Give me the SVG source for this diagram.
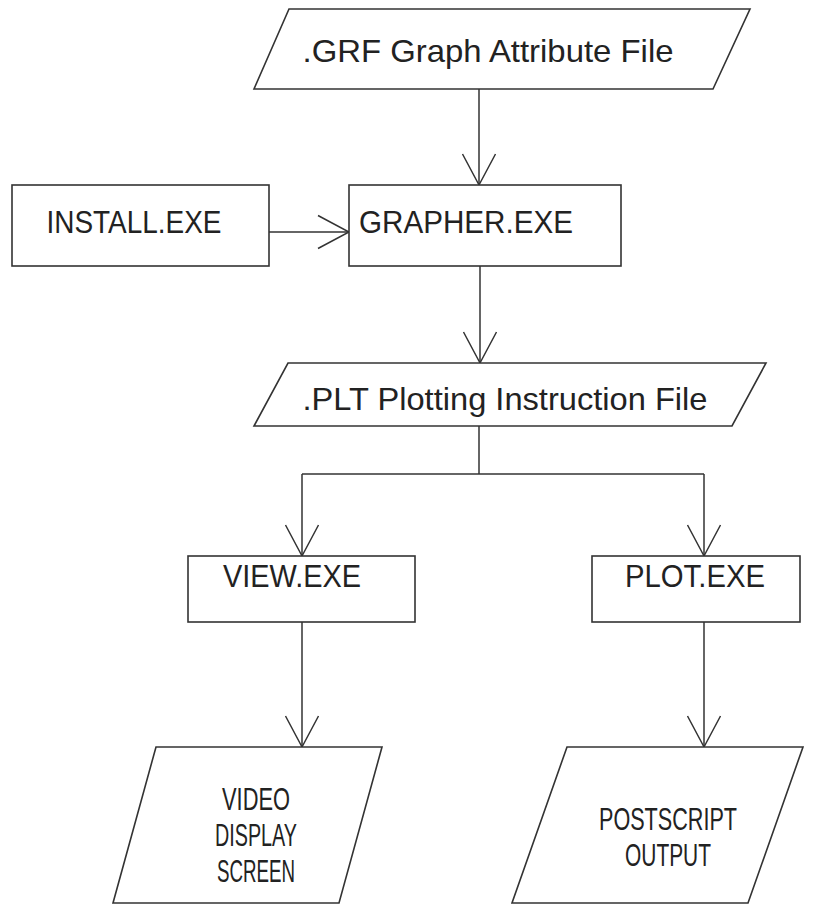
<svg xmlns="http://www.w3.org/2000/svg" width="814" height="908" viewBox="0 0 814 908">
<style>
.shape{fill:#fff;stroke:#333;stroke-width:1.6}
.conn{fill:none;stroke:#333;stroke-width:1.5}
.t{font-family:"Liberation Sans",Arial,sans-serif;font-size:32px;fill:#222;text-anchor:middle}
.tb{font-family:"Liberation Sans",Arial,sans-serif;font-size:32px;fill:#222;text-anchor:middle}
</style>
<defs>
<marker id="arr" markerUnits="userSpaceOnUse" viewBox="-33 -18 35 36" refX="0" refY="0" markerWidth="35" markerHeight="36" orient="auto">
<path d="M-31,-16.5 L0,0 L-31,16.5" fill="none" stroke="#333" stroke-width="1.5"/>
</marker>
</defs>
<rect width="814" height="908" fill="#fff"/>
<g id="connectors">
<line class="conn" x1="479" y1="89" x2="479" y2="185" marker-end="url(#arr)"/>
<line class="conn" x1="269" y1="232" x2="349" y2="232" marker-end="url(#arr)"/>
<line class="conn" x1="480" y1="266" x2="480" y2="363" marker-end="url(#arr)"/>
<polyline class="conn" points="479,426 479,474"/>
<polyline class="conn" points="302,474 704,474"/>
<line class="conn" x1="302" y1="474" x2="302" y2="556" marker-end="url(#arr)"/>
<line class="conn" x1="704" y1="474" x2="704" y2="556" marker-end="url(#arr)"/>
<line class="conn" x1="302" y1="622" x2="302" y2="747" marker-end="url(#arr)"/>
<line class="conn" x1="704" y1="622" x2="704" y2="747" marker-end="url(#arr)"/>
</g>
<g id="grf">
<polygon class="shape" points="289,9 750,9 713,89 254,89"/>
<text class="t" x="488" y="62" textLength="371" lengthAdjust="spacingAndGlyphs">.GRF Graph Attribute File</text>
</g>
<g id="install">
<rect class="shape" x="12" y="185" width="257" height="81"/>
<text class="t" x="134" y="233" textLength="175" lengthAdjust="spacingAndGlyphs">INSTALL.EXE</text>
</g>
<g id="grapher">
<rect class="shape" x="349" y="185" width="272" height="81"/>
<text class="t" x="466" y="233" textLength="214" lengthAdjust="spacingAndGlyphs">GRAPHER.EXE</text>
</g>
<g id="plt">
<polygon class="shape" points="288,363 766,363 732,426 254,426"/>
<text class="t" x="505" y="410" textLength="405" lengthAdjust="spacingAndGlyphs">.PLT Plotting Instruction File</text>
</g>
<g id="view">
<rect class="shape" x="188" y="556" width="227" height="66"/>
<text class="t" x="292" y="587" textLength="138" lengthAdjust="spacingAndGlyphs">VIEW.EXE</text>
</g>
<g id="plot">
<rect class="shape" x="592" y="556" width="208" height="66"/>
<text class="t" x="695" y="587" textLength="140" lengthAdjust="spacingAndGlyphs">PLOT.EXE</text>
</g>
<g id="video">
<polygon class="shape" points="156,747 382,747 339,903 113,903"/>
<text class="tb" x="256" y="810" textLength="68" lengthAdjust="spacingAndGlyphs">VIDEO</text>
<text class="tb" x="256" y="846" textLength="82" lengthAdjust="spacingAndGlyphs">DISPLAY</text>
<text class="tb" x="256" y="882" textLength="78" lengthAdjust="spacingAndGlyphs">SCREEN</text>
</g>
<g id="postscript">
<polygon class="shape" points="567,747 803,747 748,903 512,903"/>
<text class="tb" x="668" y="830" textLength="138" lengthAdjust="spacingAndGlyphs">POSTSCRIPT</text>
<text class="tb" x="668" y="866" textLength="86" lengthAdjust="spacingAndGlyphs">OUTPUT</text>
</g>
</svg>
